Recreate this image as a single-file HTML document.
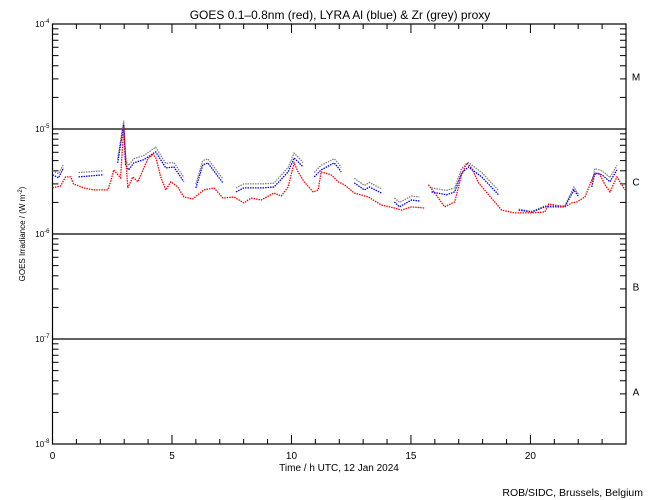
<!DOCTYPE html>
<html><head><meta charset="utf-8"><style>
body{margin:0;background:#fff;}
svg{display:block;font-family:"Liberation Sans",sans-serif;}
</style></head><body>
<svg id="chart" width="650" height="500" viewBox="0 0 650 500">
<rect width="650" height="500" fill="#fff"/>
<text x="340" y="19" font-size="12" text-anchor="middle">GOES 0.1–0.8nm (red), LYRA Al (blue) &amp; Zr (grey) proxy</text>
<text x="339" y="471" font-size="10" text-anchor="middle">Time / h UTC, 12 Jan 2024</text>
<text x="25" y="234" font-size="8" text-anchor="middle" transform="rotate(-90 25 234)">GOES Irradiance / (W m<tspan dy="-3" font-size="6">-2</tspan><tspan dy="3">)</tspan></text>
<text x="643" y="496" font-size="10.5" text-anchor="end">ROB/SIDC, Brussels, Belgium</text>
<g id="axes"></g>
<g id="series"></g>
</svg>
<script>
const xTicks=[0,5,10,15,20];
const decades=[-4,-5,-6,-7,-8];
const classes=["M","C","B","A"];
const redT=[0,0.34,0.55,0.76,0.88,1.3,1.72,2.31,2.43,2.56,2.85,2.98,3.15,3.36,3.57,3.99,4.2,4.32,4.53,4.74,4.95,5.24,5.5,5.87,6.08,6.34,6.76,7.13,7.59,8.01,8.31,8.73,9.27,9.57,9.86,10.11,10.28,10.53,10.91,11.12,11.24,11.66,11.96,12.21,12.63,13.22,13.76,14.31,14.6,15.02,15.57,15.65,15.73,16.15,16.41,16.83,17.12,17.33,17.54,17.83,18.25,18.8,19.34,20.06,20.6,20.77,21.44,21.73,21.94,22.28,22.66,22.87,23.12,23.33,23.62,23.96];
const redV=[2.75,2.87,3.5,3.5,3.0,2.75,2.63,2.63,3.14,4.08,3.43,10.5,2.75,3.5,3.14,5.2,5.7,5.4,3.5,2.63,3.14,2.8,2.25,2.16,2.36,2.63,2.75,2.2,2.25,1.98,2.2,2.11,2.46,2.3,2.8,4.76,3.9,3.14,2.52,2.63,3.9,3.66,3.14,2.94,2.46,2.25,1.89,1.77,1.69,1.81,1.77,null,2.94,2.2,1.81,2.02,3.66,4.76,4.26,3.07,2.36,1.69,1.59,1.59,1.62,1.93,1.81,1.98,2.02,2.25,3.66,3.82,2.94,2.52,3.5,2.63];
const blueT=[0,0.25,0.46,0.6,1.09,2.14,2.5,2.73,2.98,3.06,3.19,3.4,3.82,4.32,4.74,5.08,5.5,5.7,6.0,6.29,6.5,7.13,7.3,7.68,8.01,8.43,8.81,9.27,9.86,10.11,10.49,10.7,10.95,11.24,11.79,11.96,12.08,12.3,12.63,13.05,13.26,13.76,14.0,14.31,14.52,15.02,15.36,15.6,15.86,16.49,16.83,17.12,17.41,17.96,18.67,18.9,19.51,20.06,20.6,21.44,21.82,22.03,22.2,22.57,22.7,22.99,23.33,23.62];
const blueV=[3.66,3.43,4.26,null,3.5,3.66,null,4.76,11,4.55,4.08,4.76,5.1,6.05,4.26,4.35,3.14,null,2.75,4.55,4.76,3.07,null,2.52,2.75,2.75,2.75,2.8,3.9,5.3,4.35,null,3.5,4.08,4.76,4.26,3.9,null,3.07,2.63,2.8,2.46,null,2.02,1.81,2.11,2.06,null,2.52,2.36,2.52,3.82,4.35,3.5,2.36,null,1.69,1.62,1.81,1.81,2.63,2.25,null,2.8,3.82,3.66,3.14,4.08];
const greyT=blueT.slice();
const greyV=[4.0,3.75,4.6,null,3.85,4.0,null,5.2,12,5.0,4.5,5.2,5.6,6.7,4.7,4.8,3.45,null,3.0,5.0,5.2,3.35,null,2.75,3.0,3.0,3.0,3.05,4.3,5.9,4.8,null,3.85,4.5,5.2,4.7,4.3,null,3.4,2.9,3.1,2.7,null,2.2,2.0,2.3,2.25,null,2.75,2.6,2.75,4.2,4.8,3.85,2.6,null,1.72,1.64,1.85,1.85,2.8,2.35,null,3.1,4.2,4.0,3.45,4.5];

const NS="http://www.w3.org/2000/svg";
const L=52.5,R=626,T=24,B=444;
const xs=t=>L+(R-L)*t/24;
const ys=v=>B-(B-T)*(Math.log10(v*1e-6)+8)/4;
const axes=document.getElementById('axes');
function mk(tag,at,parent){const e=document.createElementNS(NS,tag);for(const k in at)e.setAttribute(k,at[k]);(parent||axes).appendChild(e);return e;}
const frame=mk('rect',{x:L,y:T,width:R-L,height:B-T,fill:'none',stroke:'#000','stroke-width':1.2});


decades.forEach((d,i)=>{
  const y=B-(B-T)*(d+8)/4;
  if(d>-8&&d<-4){const gl=mk('line',{x1:L,x2:R,y1:y,y2:y,stroke:'#000','stroke-width':1.2});
    
    }
  const t=mk('text',{x:L-3,y:y+3,'font-size':8,'text-anchor':'end'});
  
  
  t.innerHTML='10<tspan dy="-4" font-size="6">'+d+'</tspan>';
  if(d>-8){for(let m=2;m<=9;m++){const yy=y+(B-T)/4*(1-Math.log10(m));
    mk('line',{x1:L,x2:L+6,y1:yy,y2:yy,stroke:'#000'});mk('line',{x1:R,x2:R-6,y1:yy,y2:yy,stroke:'#000'});}}
});
classes.forEach((c,i)=>{
  const y=T+(B-T)/4*(i+0.5)+4;
  const t=mk('text',{x:636,y:y,'font-size':10,'text-anchor':'middle'});
  
  
  t.textContent=c;
});
for(let h=1;h<24;h++){const x=xs(h),len=h%5===0?9:5;
  mk('line',{x1:x,x2:x,y1:B,y2:B-len,stroke:'#000'});mk('line',{x1:x,x2:x,y1:T,y2:T+len,stroke:'#000'});}
xTicks.forEach(h=>{const t=mk('text',{x:xs(h),y:B+15,'font-size':10,'text-anchor':'middle'});
  
  
  t.textContent=h;});
const sg=document.getElementById('series');
function drawSeries(T_,V_,color,name){
  let seg=[];const segs=[];
  T_.forEach((t,i)=>{if(V_[i]==null){if(seg.length)segs.push(seg);seg=[];}else seg.push(xs(t).toFixed(1)+','+ys(V_[i]).toFixed(1));});
  if(seg.length)segs.push(seg);
  segs.forEach(s=>{const p=mk('polyline',{points:s.join(' '),fill:'none',stroke:color,'stroke-width':1.3,'stroke-dasharray':'1.5 1'},sg);
    
    });
}
drawSeries(greyT,greyV,'#808080','zr-grey-series');
drawSeries(blueT,blueV,'#0000ff','al-blue-series');
drawSeries(redT,redV,'#ff0000','goes-red-series');
</script>
</body></html>
